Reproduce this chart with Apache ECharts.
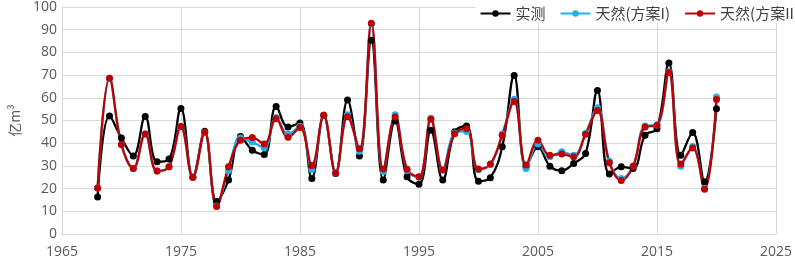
<!DOCTYPE html>
<html>
<head>
<meta charset="utf-8">
<script src="https://cdn.jsdelivr.net/npm/echarts@6/dist/echarts.min.js"></script>
<style>
  html, body { margin: 0; padding: 0; background: #fff; }
  #runoffChart { width: 795px; height: 261px; }
</style>
</head>
<body>
<div id="runoffChart"></div>
<script>
// 年份 1968-2020
const years = []
for (let y = 1968; y <= 2020; y++) years.push(y)

// 实测
const measured = [16.3, 52.0, 42.3, 34.4, 51.8, 31.8, 33.0, 55.3, 25.0, 45.3,
  14.3, 23.8, 43.0, 36.9, 35.0, 56.2, 47.1, 48.9, 24.5, 52.3,
  26.7, 59.0, 34.4, 85.4, 23.8, 49.8, 25.2, 21.9, 45.7, 23.8,
  45.0, 47.6, 23.2, 24.8, 38.4, 69.8, 29.5, 38.4, 29.9, 27.9,
  31.1, 35.5, 63.2, 26.4, 29.6, 28.9, 43.5, 46.4, 75.3, 34.7,
  44.7, 23.0, 55.2]
// 天然(方案I)
const natural1 = [20.3, 68.6, 39.4, 28.9, 44.1, 27.7, 29.6, 47.4, 25.0, 44.8,
  12.3, 28.0, 42.3, 40.5, 38.0, 51.3, 44.0, 47.5, 28.5, 52.3,
  26.9, 52.5, 36.5, 92.5, 27.5, 52.5, 28.0, 25.0, 51.0, 28.3,
  44.5, 45.2, 28.3, 30.5, 44.0, 59.4, 28.9, 39.6, 34.0, 36.2,
  34.7, 44.3, 55.6, 32.0, 24.5, 30.0, 47.6, 48.0, 71.5, 29.9,
  38.5, 20.0, 60.3]
// 天然(方案II)
const natural2 = [20.3, 68.6, 39.4, 28.9, 44.1, 27.7, 29.6, 47.4, 25.0, 44.8,
  12.1, 29.6, 41.3, 42.5, 39.6, 50.8, 42.6, 46.9, 30.2, 52.3,
  26.9, 51.7, 37.5, 92.8, 28.6, 51.5, 28.5, 25.2, 50.5, 28.2,
  44.2, 46.4, 28.6, 30.8, 43.5, 58.4, 30.4, 41.3, 34.7, 35.2,
  34.0, 43.9, 54.4, 31.4, 23.6, 29.9, 47.1, 47.9, 71.2, 30.8,
  37.9, 19.7, 59.3]

const yTicks = { min: 0, max: 100, interval: 10 }
const xTicks = { min: 1965, max: 2025, interval: 10 }

const pairs = arr => years.map((y, i) => [y, arr[i]])

const chart = echarts.init(document.getElementById('runoffChart'))
const textColor = '#595959'
const lineSeries = (name, color, data) => ({
  name: name,
  type: 'line',
  smooth: 0.4,
  symbol: 'circle',
  symbolSize: 7,
  color: color,
  lineStyle: { width: 2.3, color: color },
  itemStyle: { color: color },
  data: pairs(data),
  animation: false
})

chart.setOption({
  backgroundColor: '#fff',
  textStyle: { fontFamily: 'Open Sans, Noto Sans CJK SC, sans-serif' },
  grid: { left: 52, right: 15, top: 6, bottom: 27, containLabel: false },
  legend: {
    right: -4,
    top: 4,
    itemWidth: 30,
    itemHeight: 8,
    itemGap: 14,
    backgroundColor: '#fff',
    padding: [2, 0, 2, 4],
    textStyle: { fontSize: 15, color: '#404040', fontFamily: 'Noto Sans CJK SC' },
    data: ['实测', '天然(方案I)', '天然(方案II)']
  },
  xAxis: {
    type: 'value',
    min: xTicks.min,
    max: xTicks.max,
    interval: xTicks.interval,
    axisLine: { show: true, lineStyle: { color: '#d9d9d9' } },
    axisTick: { show: false },
    axisLabel: { color: textColor, fontSize: 14, margin: 11, formatter: v => String(v) },
    splitLine: { show: true, lineStyle: { color: '#d9d9d9', width: 1 } }
  },
  yAxis: {
    type: 'value',
    min: yTicks.min,
    max: yTicks.max,
    interval: yTicks.interval,
    name: '亿m³',
    nameLocation: 'middle',
    nameGap: 30,
    nameRotate: 90,
    nameTextStyle: { color: textColor, fontSize: 14, fontFamily: 'Noto Sans CJK SC' },
    axisLine: { show: true, lineStyle: { color: '#d9d9d9' } },
    axisTick: { show: false },
    axisLabel: { color: textColor, fontSize: 14, margin: 5 },
    splitLine: { show: true, lineStyle: { color: '#d9d9d9', width: 1 } }
  },
  series: [
    lineSeries('实测', '#000000', measured),
    lineSeries('天然(方案I)', '#1fb0ef', natural1),
    lineSeries('天然(方案II)', '#c00000', natural2)
  ]
})
</script>
</body>
</html>
